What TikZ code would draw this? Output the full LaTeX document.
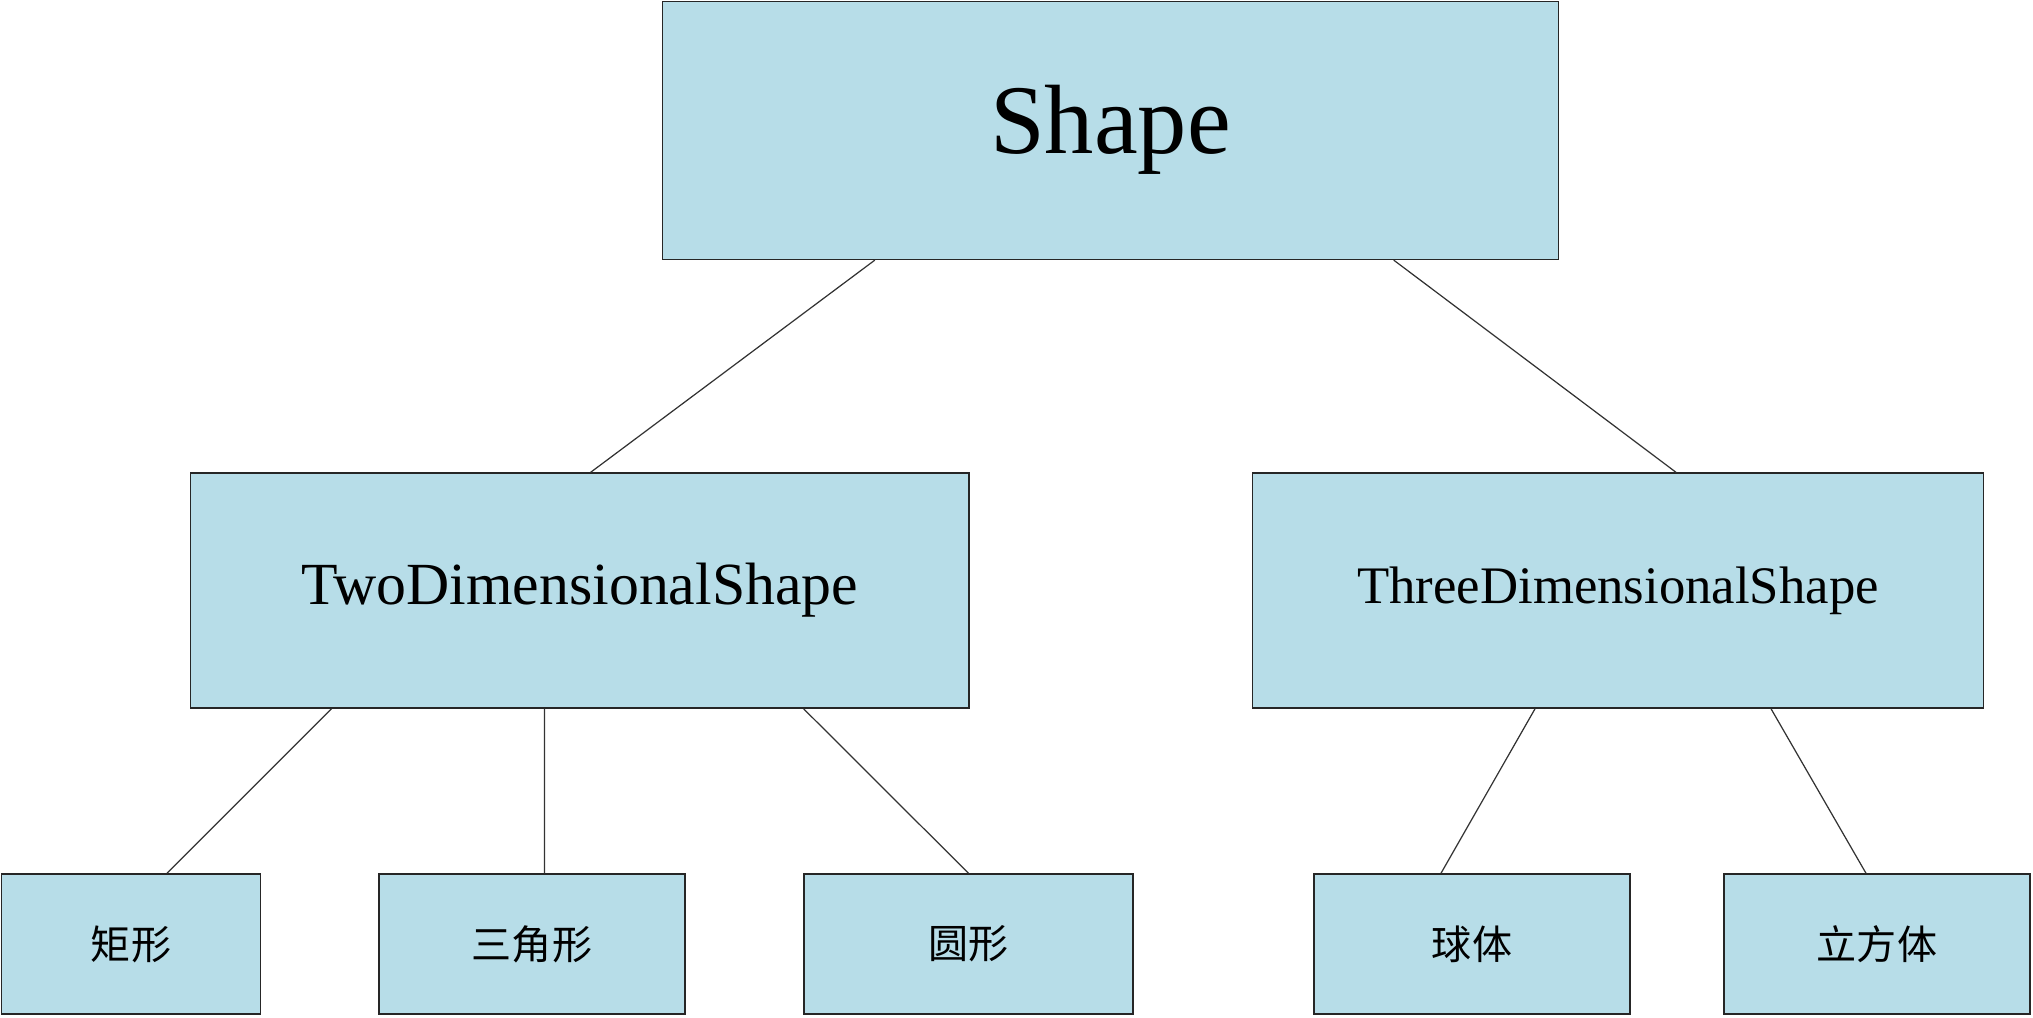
\documentclass[tikz,border=0pt]{standalone}
\usepackage{fontspec}
\setmainfont{Liberation Serif}
\newfontfamily\cjk{Noto Sans CJK SC}
\definecolor{boxblue}{HTML}{B7DDE8}
\tikzset{
  box/.style={draw=black!85, line width=0.4pt, fill=boxblue, inner sep=0pt},
  link/.style={line width=0.35pt, color=black!80}
}

\begin{document}
\begin{tikzpicture}[x=0.01cm, y=-0.01cm]
			%%%%% START %%%%%
			\useasboundingbox (0, 0) rectangle (2033, 1017);
			
			\node[box, minimum width=8.96cm, minimum height=2.58cm, font=\fontsize{28}{30}\selectfont] (shape) at (1110.5, 130.3) {Shape};
			
			\node[box, minimum width=7.78cm, minimum height=2.35cm, font=\fontsize{17}{19}\selectfont] (two) at (579.6, 590.6) {TwoDimensionalShape};
			\node[box, minimum width=7.31cm, minimum height=2.35cm, font=\fontsize{15}{17}\selectfont] (three) at (1618, 590.6) {ThreeDimensionalShape};
			
			\node[box, minimum width=2.59cm, minimum height=1.40cm, font=\cjk\fontsize{11.4}{13}\selectfont] (rect) at (131, 944) {矩形};
			\node[box, minimum width=3.06cm, minimum height=1.40cm, font=\cjk\fontsize{11.4}{13}\selectfont] (tri) at (532, 944) {三角形};
			\node[box, minimum width=3.29cm, minimum height=1.40cm, font=\cjk\fontsize{11.4}{13}\selectfont] (circ) at (968.5, 944) {圆形};
			\node[box, minimum width=3.16cm, minimum height=1.40cm, font=\cjk\fontsize{11.4}{13}\selectfont] (ball) at (1472, 944) {球体};
			\node[box, minimum width=3.06cm, minimum height=1.40cm, font=\cjk\fontsize{11.4}{13}\selectfont] (cube) at (1877, 944) {立方体};
			
			\draw[link] ([xshift=-2.355cm]shape.south) -- ([xshift=0.11cm]two.north);
			\draw[link] ([xshift=2.83cm]shape.south) -- ([xshift=0.58cm]three.north);
			
			\draw[link] ([xshift=-2.48cm]two.south) -- ([xshift=0.36cm]rect.north);
			\draw[link] ([xshift=-0.35cm]two.south) -- ([xshift=0.126cm]tri.north);
			\draw[link] ([xshift=2.24cm]two.south) -- (circ.north);
			
			\draw[link] ([xshift=-0.83cm]three.south) -- ([xshift=-0.31cm]ball.north);
			\draw[link] ([xshift=1.53cm]three.south) -- ([xshift=-0.11cm]cube.north);
			
			%%%%% END %%%%%
\end{tikzpicture}
\end{document}
